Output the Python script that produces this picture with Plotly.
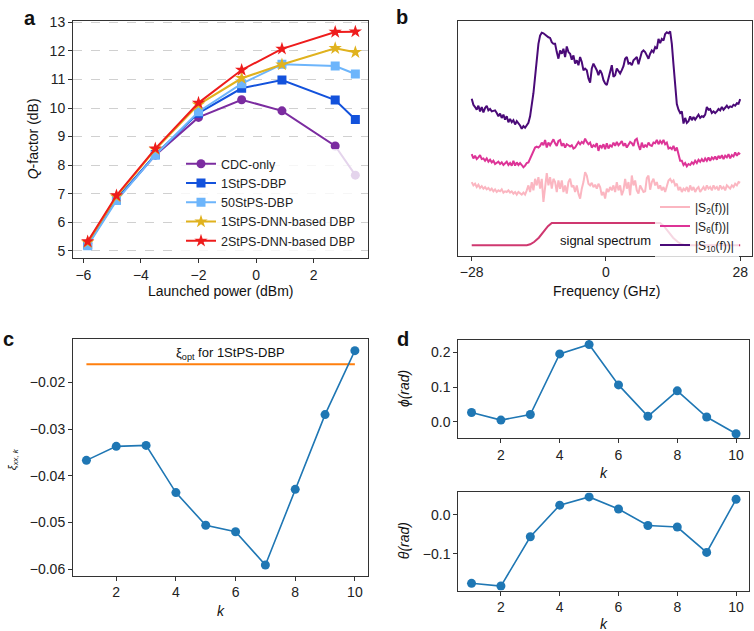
import numpy as np
import plotly.graph_objects as go

W, H = 754, 631
FONT = "Liberation Sans, Arial, Helvetica, sans-serif"

# ---------------- Panel a data ----------------
power_dbm = [-5.85, -4.85, -3.5, -2.0, -0.5, 0.9, 2.75, 3.45]
q_cdc = [5.25, 6.80, 8.35, 9.67, 10.29, 9.90, 8.67, 7.65]
q_1stps_dbp = [5.22, 6.80, 8.37, 9.82, 10.69, 10.98, 10.28, 9.60]
q_50stps_dbp = [5.18, 6.76, 8.35, 9.87, 10.85, 11.53, 11.47, 11.19]
q_1stps_dnn = [5.30, 6.90, 8.55, 10.12, 11.04, 11.52, 12.09, 11.95]
q_2stps_dnn = [5.33, 6.94, 8.58, 10.18, 11.33, 12.07, 12.66, 12.67]

# ---------------- Panel b data (a.u., offset spectra) ----------------
freq_ghz = np.linspace(-28, 28, 162)
s10_amp = [
    476, 458, 451, 443, 455, 438, 451, 435, 448, 455,
    441, 445, 438, 440, 441, 433, 423, 431, 418, 428,
    413, 423, 405, 415, 405, 411, 398, 408, 403, 395,
    385, 393, 388, 395, 403, 423, 453, 493, 543, 603,
    643, 668, 677, 675, 671, 665, 663, 661, 648, 643,
    643, 618, 598, 623, 613, 628, 603, 635, 618, 613,
    595, 608, 583, 593, 578, 603, 588, 563, 568, 563,
    538, 525, 568, 583, 573, 563, 548, 563, 553, 533,
    523, 518, 538, 563, 578, 543, 548, 568, 558, 553,
    563, 575, 598, 603, 583, 585, 578, 593, 598, 603,
    581, 603, 618, 623, 618, 608, 598, 613, 623, 618,
    633, 628, 658, 645, 658, 653, 673, 678, 675, 681,
    643, 580, 503, 460, 443, 433, 438, 401, 418, 403,
    408, 423, 411, 421, 413, 423, 428, 418, 423, 421,
    428, 451, 443, 445, 433, 438, 433, 438, 445, 441,
    451, 443, 451, 455, 448, 453, 451, 458, 455, 463,
    461, 475,
]
s6_amp = [
    308, 295, 303, 293, 298, 305, 293, 295, 288, 295,
    285, 291, 283, 288, 278, 283, 285, 278, 283, 275,
    281, 285, 275, 281, 273, 288, 273, 283, 275, 281,
    275, 268, 273, 281, 283, 293, 303, 315, 328, 331,
    328, 333, 343, 335, 351, 328, 343, 335, 345, 353,
    341, 333, 348, 351, 333, 341, 328, 338, 335, 331,
    335, 325, 328, 335, 345, 338, 345, 341, 355, 345,
    338, 343, 328, 335, 331, 341, 318, 335, 328, 338,
    323, 341, 325, 335, 331, 343, 333, 345, 335, 341,
    348, 333, 341, 328, 335, 345, 341, 333, 351, 355,
    335, 321, 343, 328, 335, 331, 343, 335, 333, 343,
    341, 351, 338, 348, 341, 351, 338, 343, 325, 328,
    323, 333, 318, 328, 308, 288, 288, 275, 281, 271,
    278, 275, 283, 278, 288, 281, 291, 285, 293, 285,
    295, 288, 298, 288, 298, 293, 301, 291, 303, 295,
    305, 293, 303, 298, 308, 295, 305, 301, 313, 303,
    311, 308,
]
s2_amp = [
    223, 213, 218, 208, 215, 205, 211, 203, 208, 201,
    205, 198, 203, 195, 201, 193, 198, 195, 201, 191,
    195, 193, 198, 191, 195, 188, 193, 185, 193, 188,
    185, 191, 185, 198, 213, 193, 223, 198, 233, 213,
    238, 203, 233, 163, 215, 250, 213, 238, 203, 233,
    223, 193, 228, 203, 228, 193, 213, 188, 223, 233,
    208, 213, 193, 213, 188, 173, 203, 223, 253, 243,
    218, 213, 221, 208, 215, 203, 218, 208, 183, 193,
    173, 203, 193, 208, 198, 213, 193, 223, 198, 213,
    183, 198, 233, 203, 223, 183, 243, 213, 228, 198,
    188, 213, 203, 193, 195, 235, 243, 200, 223, 233,
    213, 223, 203, 213, 198, 208, 193, 213, 228, 233,
    223, 228, 213, 218, 198, 208, 193, 203, 198, 208,
    193, 213, 198, 208, 193, 203, 208, 193, 203, 208,
    198, 213, 203, 208, 198, 213, 203, 208, 198, 213,
    203, 208, 198, 213, 208, 203, 213, 208, 218, 213,
    223, 221,
]
sig_freq = [-28, -16.5, -15.8, -15.0, -14.0, -13.0, -12.1, -11.3,
            11.3, 12.1, 13.0, 14.0, 15.0, 15.8, 16.5, 28]
sig_amp = [31, 31, 34, 41, 54, 72, 89, 99,
           99, 89, 72, 54, 41, 34, 31, 31]
freq_ticks = [-28, 0, 28]

# ---------------- Panel c / d data ----------------
k_idx = [1, 2, 3, 4, 5, 6, 7, 8, 9, 10]
xi_xxk = [-0.0367, -0.0337, -0.0335, -0.0436, -0.0506, -0.0520, -0.0591, -0.0429, -0.0269, -0.0132]
xi_opt = -0.0161
phi_rad = [0.027, 0.005, 0.021, 0.195, 0.222, 0.106, 0.016, 0.089, 0.014, -0.034]
theta_rad = [-0.175, -0.182, -0.056, 0.025, 0.046, 0.015, -0.027, -0.031, -0.096, 0.040]


def px(x):
    return x / W


def py(y):
    return 1 - y / H


fig = go.Figure()

# Panel a traces
a_series = [
    ("CDC-only", q_cdc, "#7b2ca0", "circle", 9),
    ("1StPS-DBP", q_1stps_dbp, "#1352dc", "square", 9),
    ("50StPS-DBP", q_50stps_dbp, "#6db5fb", "square", 9),
    ("1StPS-DNN-based DBP", q_1stps_dnn, "#e0b21e", "star", 10),
    ("2StPS-DNN-based DBP", q_2stps_dnn, "#ee1c1c", "star", 10),
]
for name, vals, col, sym, ms in a_series:
    fig.add_trace(go.Scatter(
        x=power_dbm, y=vals, name=name, mode="lines+markers",
        line=dict(color=col, width=2),
        marker=dict(color=col, symbol=sym, size=ms, line=dict(width=0)),
        xaxis="x", yaxis="y", legend="legend"))

# Panel b traces
fig.add_trace(go.Scatter(x=sig_freq, y=sig_amp, mode="lines", showlegend=False,
                         line=dict(color="#cf3870", width=2), xaxis="x2", yaxis="y2"))
for name, vals, col in [
    ("|S<sub>2</sub>(f))|", s2_amp, "#fbb6c1"),
    ("|S<sub>6</sub>(f))|", s6_amp, "#dd3497"),
    ("|S<sub>10</sub>(f))|", s10_amp, "#4a0a78"),
]:
    fig.add_trace(go.Scatter(x=freq_ghz, y=vals, name=name, mode="lines",
                             line=dict(color=col, width=2),
                             xaxis="x2", yaxis="y2", legend="legend2"))

# Panel c traces
fig.add_trace(go.Scatter(x=[k_idx[0], k_idx[-1]], y=[xi_opt, xi_opt], mode="lines",
                         showlegend=False, line=dict(color="#ff7f0e", width=2),
                         xaxis="x3", yaxis="y3"))
fig.add_trace(go.Scatter(x=k_idx, y=xi_xxk, mode="lines+markers", showlegend=False,
                         line=dict(color="#1f77b4", width=1.6),
                         marker=dict(color="#1f77b4", size=9),
                         xaxis="x3", yaxis="y3"))
# Panel d traces
fig.add_trace(go.Scatter(x=k_idx, y=phi_rad, mode="lines+markers", showlegend=False,
                         line=dict(color="#1f77b4", width=1.6),
                         marker=dict(color="#1f77b4", size=9),
                         xaxis="x4", yaxis="y4"))
fig.add_trace(go.Scatter(x=k_idx, y=theta_rad, mode="lines+markers", showlegend=False,
                         line=dict(color="#1f77b4", width=1.6),
                         marker=dict(color="#1f77b4", size=9),
                         xaxis="x5", yaxis="y5"))

base_ax = dict(showline=True, mirror=True, linecolor="#333", linewidth=1,
               ticks="outside", ticklen=4, tickcolor="#333", tickwidth=1,
               tickfont=dict(size=14, color="#222"), zeroline=False,
               showgrid=False)

kx = dict(base_ax, range=[0.55, 10.45], tickvals=[2, 4, 6, 8, 10])

fig.update_layout(
    width=W, height=H, margin=dict(l=0, r=0, t=0, b=0),
    paper_bgcolor="white", plot_bgcolor="white",
    font=dict(family=FONT, color="#222", size=14),
    xaxis=dict(base_ax, domain=[px(73), px(368.3)], range=[-6.36, 3.9],
               tickvals=[-6, -4, -2, 0, 2], anchor="y"),
    yaxis=dict(base_ax, domain=[py(254), py(14)], range=[4.76, 13.05],
               tickvals=list(range(5, 14)), showgrid=True, gridcolor="#d0d0d0",
               griddash="dash", gridwidth=1, anchor="x"),
    xaxis2=dict(base_ax, domain=[px(458.3), px(751.7)], range=[-30.8, 30.4],
                tickvals=freq_ticks, anchor="y2"),
    yaxis2=dict(base_ax, domain=[py(251.7), py(14)], range=[0, 713],
                ticks="", showticklabels=False, anchor="x2"),
    xaxis3=dict(kx, domain=[px(73), px(368.3)], anchor="y3"),
    yaxis3=dict(base_ax, domain=[py(576), py(336.7)], range=[-0.0614, -0.0108],
                tickvals=[-0.06, -0.05, -0.04, -0.03, -0.02], tickformat=".2f",
                anchor="x3"),
    xaxis4=dict(kx, domain=[px(458.3), px(749.3)], anchor="y4"),
    yaxis4=dict(base_ax, domain=[py(436.7), py(337.3)], range=[-0.0468, 0.2348],
                tickvals=[0.0, 0.1, 0.2], tickformat=".1f", anchor="x4"),
    xaxis5=dict(kx, domain=[px(458.3), px(749.3)], anchor="y5"),
    yaxis5=dict(base_ax, domain=[py(591), py(491.7)], range=[-0.1934, 0.0574],
                tickvals=[-0.1, 0.0], tickformat=".1f", anchor="x5"),
    legend=dict(x=px(181), y=py(144), xanchor="left", yanchor="top",
                bgcolor="rgba(255,255,255,0.8)", borderwidth=0,
                font=dict(size=12.5, color="#222"), itemwidth=30),
    legend2=dict(x=px(655), y=py(188), xanchor="left", yanchor="top",
                 bgcolor="rgba(255,255,255,0.8)", borderwidth=0,
                 font=dict(size=12, color="#222"), itemwidth=30),
)

annos = [
    # panel letters
    dict(text="<b>a</b>", x=px(30), y=py(11), size=20),
    dict(text="<b>b</b>", x=px(402), y=py(10), size=20),
    dict(text="<b>c</b>", x=px(8), y=py(336), size=20),
    dict(text="<b>d</b>", x=px(403), y=py(336), size=20),
    # axis titles
    dict(text="Launched power (dBm)", x=px(221), y=py(288), size=14),
    dict(text="<i>Q</i>-factor (dB)", x=px(33), y=py(134), size=14, angle=-90),
    dict(text="Frequency (GHz)", x=px(606), y=py(288), size=14),
    dict(text="signal spectrum", x=px(605), y=py(236), size=13),
    dict(text="<i>ξ</i><sub><i>xx, k</i></sub>", x=px(13), y=py(458), size=11, angle=-90),
    dict(text="<i>k</i>", x=px(221), y=py(612), size=14),
    dict(text="<i>ϕ(rad)</i>", x=px(404), y=py(387), size=14, angle=-90),
    dict(text="<i>k</i>", x=px(604), y=py(472), size=14),
    dict(text="<i>θ(rad)</i>", x=px(404), y=py(541), size=14, angle=-90),
    dict(text="<i>k</i>", x=px(604), y=py(625), size=14),
]
for a in annos:
    fig.add_annotation(text=a["text"], x=a["x"], y=a["y"], xref="paper", yref="paper",
                       showarrow=False, textangle=a.get("angle", 0),
                       font=dict(size=a["size"], color="#111", family=FONT),
                       xanchor="center", yanchor="middle")

fig.add_annotation(text="ξ<sub>opt</sub> for 1StPS-DBP", x=5.84, y=-0.0139,
                   xref="x3", yref="y3", showarrow=False,
                   font=dict(size=13, color="#111", family=FONT),
                   xanchor="center", yanchor="middle")

fig.write_html(
    "out.html",
    config={"displayModeBar": False},
    post_script="document.body.style.margin='0';document.body.style.overflow='hidden';",
)
